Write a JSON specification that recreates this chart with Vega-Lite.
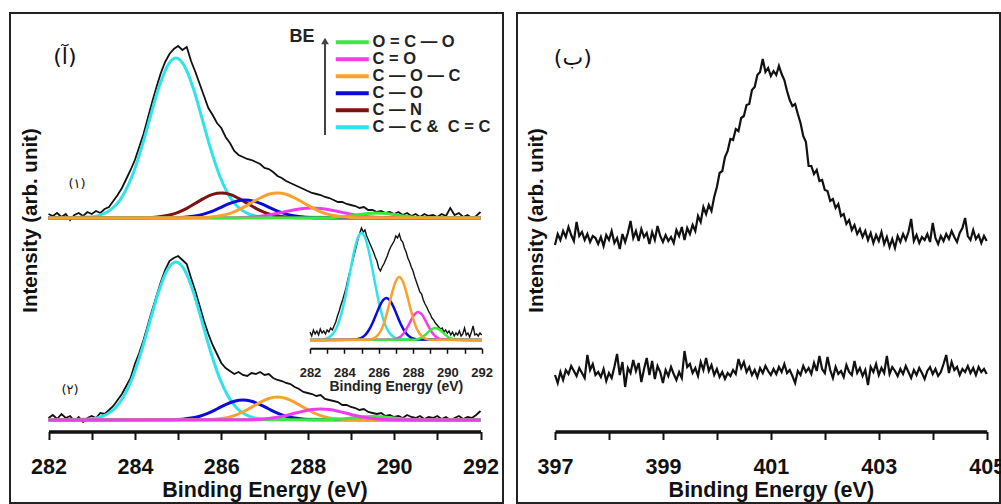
{
"$schema":"https://vega.github.io/schema/vega-lite/v6.json",
"padding":{"left":9,"top":12,"right":0,"bottom":0},
"autosize":{"type":"pad"},
"config":{"view":{"stroke":"#222","strokeWidth":2},"font":"Liberation Sans","axis":{"grid":false}},
"datasets":{
"b1":[{"e":282.0,"v":216},{"e":282.1,"v":214},{"e":282.2,"v":217},{"e":282.3,"v":213},{"e":282.4,"v":216},{"e":282.5,"v":210},{"e":282.6,"v":215},{"e":282.7,"v":217},{"e":282.8,"v":214},{"e":282.9,"v":218},{"e":283.0,"v":216},{"e":283.1,"v":219},{"e":283.2,"v":217},{"e":283.3,"v":221},{"e":283.4,"v":223},{"e":283.5,"v":229},{"e":283.6,"v":235},{"e":283.7,"v":242},{"e":283.8,"v":251},{"e":283.9,"v":260},{"e":284.0,"v":270},{"e":284.1,"v":283},{"e":284.2,"v":296},{"e":284.3,"v":312},{"e":284.4,"v":328},{"e":284.5,"v":343},{"e":284.6,"v":357},{"e":284.7,"v":368},{"e":284.8,"v":376},{"e":284.9,"v":381},{"e":285.0,"v":384},{"e":285.1,"v":380},{"e":285.2,"v":383},{"e":285.3,"v":369},{"e":285.4,"v":358},{"e":285.5,"v":346},{"e":285.6,"v":334},{"e":285.7,"v":322},{"e":285.8,"v":315},{"e":285.9,"v":307},{"e":286.0,"v":302},{"e":286.1,"v":293},{"e":286.2,"v":287},{"e":286.3,"v":279},{"e":286.4,"v":275},{"e":286.5,"v":273},{"e":286.6,"v":271},{"e":286.7,"v":270},{"e":286.8,"v":268},{"e":286.9,"v":266},{"e":287.0,"v":262},{"e":287.1,"v":261},{"e":287.2,"v":258},{"e":287.3,"v":254},{"e":287.4,"v":252},{"e":287.5,"v":249},{"e":287.6,"v":247},{"e":287.7,"v":245},{"e":287.8,"v":243},{"e":287.9,"v":241},{"e":288.0,"v":239},{"e":288.1,"v":237},{"e":288.2,"v":236},{"e":288.3,"v":235},{"e":288.4,"v":233},{"e":288.5,"v":232},{"e":288.6,"v":230},{"e":288.7,"v":228},{"e":288.8,"v":228},{"e":288.9,"v":226},{"e":289.0,"v":225},{"e":289.1,"v":224},{"e":289.2,"v":222},{"e":289.3,"v":223},{"e":289.4,"v":220},{"e":289.5,"v":220},{"e":289.6,"v":218},{"e":289.7,"v":219},{"e":289.8,"v":217},{"e":289.9,"v":218},{"e":290.0,"v":216},{"e":290.1,"v":218},{"e":290.2,"v":215},{"e":290.3,"v":217},{"e":290.4,"v":214},{"e":290.5,"v":216},{"e":290.6,"v":213},{"e":290.7,"v":216},{"e":290.8,"v":214},{"e":290.9,"v":215},{"e":291.0,"v":213},{"e":291.1,"v":216},{"e":291.2,"v":214},{"e":291.3,"v":222},{"e":291.4,"v":215},{"e":291.5,"v":217},{"e":291.6,"v":213},{"e":291.7,"v":215},{"e":291.8,"v":212},{"e":291.9,"v":214},{"e":292.0,"v":218}],
"b2":[{"e":282.0,"v":12},{"e":282.1,"v":15},{"e":282.2,"v":11},{"e":282.3,"v":16},{"e":282.4,"v":12},{"e":282.5,"v":14},{"e":282.6,"v":9},{"e":282.7,"v":13},{"e":282.8,"v":8},{"e":282.9,"v":12},{"e":283.0,"v":14},{"e":283.1,"v":12},{"e":283.2,"v":17},{"e":283.3,"v":16},{"e":283.4,"v":20},{"e":283.5,"v":24},{"e":283.6,"v":30},{"e":283.7,"v":36},{"e":283.8,"v":44},{"e":283.9,"v":52},{"e":284.0,"v":66},{"e":284.1,"v":77},{"e":284.2,"v":90},{"e":284.3,"v":105},{"e":284.4,"v":120},{"e":284.5,"v":134},{"e":284.6,"v":148},{"e":284.7,"v":160},{"e":284.8,"v":169},{"e":284.9,"v":172},{"e":285.0,"v":174},{"e":285.1,"v":170},{"e":285.2,"v":166},{"e":285.3,"v":152},{"e":285.4,"v":139},{"e":285.5,"v":124},{"e":285.6,"v":109},{"e":285.7,"v":96},{"e":285.8,"v":85},{"e":285.9,"v":76},{"e":286.0,"v":67},{"e":286.1,"v":62},{"e":286.2,"v":59},{"e":286.3,"v":56},{"e":286.4,"v":58},{"e":286.5,"v":55},{"e":286.6,"v":54},{"e":286.7,"v":57},{"e":286.8,"v":56},{"e":286.9,"v":58},{"e":287.0,"v":55},{"e":287.1,"v":56},{"e":287.2,"v":52},{"e":287.3,"v":50},{"e":287.4,"v":49},{"e":287.5,"v":47},{"e":287.6,"v":46},{"e":287.7,"v":43},{"e":287.8,"v":41},{"e":287.9,"v":38},{"e":288.0,"v":37},{"e":288.1,"v":36},{"e":288.2,"v":34},{"e":288.3,"v":35},{"e":288.4,"v":31},{"e":288.5,"v":30},{"e":288.6,"v":29},{"e":288.7,"v":28},{"e":288.8,"v":25},{"e":288.9,"v":25},{"e":289.0,"v":23},{"e":289.1,"v":22},{"e":289.2,"v":20},{"e":289.3,"v":21},{"e":289.4,"v":18},{"e":289.5,"v":17},{"e":289.6,"v":16},{"e":289.7,"v":17},{"e":289.8,"v":14},{"e":289.9,"v":15},{"e":290.0,"v":13},{"e":290.1,"v":14},{"e":290.2,"v":12},{"e":290.3,"v":15},{"e":290.4,"v":13},{"e":290.5,"v":12},{"e":290.6,"v":14},{"e":290.7,"v":11},{"e":290.8,"v":13},{"e":290.9,"v":12},{"e":291.0,"v":14},{"e":291.1,"v":11},{"e":291.2,"v":13},{"e":291.3,"v":10},{"e":291.4,"v":12},{"e":291.5,"v":14},{"e":291.6,"v":11},{"e":291.7,"v":13},{"e":291.8,"v":12},{"e":291.9,"v":15},{"e":292.0,"v":19}],
"comp":[
{"s":1,"k":"c","e":282,"v":212},{"s":1,"k":"c","e":282.95,"v":212.9},{"s":1,"k":"c","e":283.15,"v":214.4},{"s":1,"k":"c","e":283.35,"v":217.7},{"s":1,"k":"c","e":283.55,"v":224.5},{"s":1,"k":"c","e":283.75,"v":236.6},{"s":1,"k":"c","e":283.95,"v":255.5},{"s":1,"k":"c","e":284.15,"v":281.6},{"s":1,"k":"c","e":284.35,"v":312.2},{"s":1,"k":"c","e":284.55,"v":341.9},{"s":1,"k":"c","e":284.75,"v":363.8},{"s":1,"k":"c","e":284.95,"v":372},{"s":1,"k":"c","e":285.15,"v":363.8},{"s":1,"k":"c","e":285.35,"v":341.9},{"s":1,"k":"c","e":285.55,"v":312.2},{"s":1,"k":"c","e":285.75,"v":281.6},{"s":1,"k":"c","e":285.95,"v":255.5},{"s":1,"k":"c","e":286.15,"v":236.6},{"s":1,"k":"c","e":286.35,"v":224.5},{"s":1,"k":"c","e":286.55,"v":217.7},{"s":1,"k":"c","e":286.75,"v":214.4},{"s":1,"k":"c","e":286.95,"v":212.9},{"s":1,"k":"c","e":292,"v":212},
{"s":1,"k":"n","e":282,"v":212},{"s":1,"k":"n","e":284.2,"v":212.2},{"s":1,"k":"n","e":284.4,"v":212.6},{"s":1,"k":"n","e":284.6,"v":213.4},{"s":1,"k":"n","e":284.8,"v":215},{"s":1,"k":"n","e":285.0,"v":217.7},{"s":1,"k":"n","e":285.2,"v":221.7},{"s":1,"k":"n","e":285.4,"v":226.7},{"s":1,"k":"n","e":285.6,"v":231.7},{"s":1,"k":"n","e":285.8,"v":235.6},{"s":1,"k":"n","e":286.0,"v":237},{"s":1,"k":"n","e":286.2,"v":235.6},{"s":1,"k":"n","e":286.4,"v":231.7},{"s":1,"k":"n","e":286.6,"v":226.7},{"s":1,"k":"n","e":286.8,"v":221.7},{"s":1,"k":"n","e":287.0,"v":217.7},{"s":1,"k":"n","e":287.2,"v":215},{"s":1,"k":"n","e":287.4,"v":213.4},{"s":1,"k":"n","e":287.6,"v":212.6},{"s":1,"k":"n","e":287.8,"v":212.2},{"s":1,"k":"n","e":292,"v":212},
{"s":1,"k":"b","e":282,"v":212},{"s":1,"k":"b","e":284.95,"v":212.3},{"s":1,"k":"b","e":285.15,"v":212.7},{"s":1,"k":"b","e":285.35,"v":213.7},{"s":1,"k":"b","e":285.55,"v":215.4},{"s":1,"k":"b","e":285.75,"v":218.2},{"s":1,"k":"b","e":285.95,"v":221.9},{"s":1,"k":"b","e":286.15,"v":225.8},{"s":1,"k":"b","e":286.35,"v":228.8},{"s":1,"k":"b","e":286.55,"v":230},{"s":1,"k":"b","e":286.75,"v":228.8},{"s":1,"k":"b","e":286.95,"v":225.8},{"s":1,"k":"b","e":287.15,"v":221.9},{"s":1,"k":"b","e":287.35,"v":218.2},{"s":1,"k":"b","e":287.55,"v":215.4},{"s":1,"k":"b","e":287.75,"v":213.7},{"s":1,"k":"b","e":287.95,"v":212.7},{"s":1,"k":"b","e":288.15,"v":212.3},{"s":1,"k":"b","e":292,"v":212},
{"s":1,"k":"m","e":282,"v":212},{"s":1,"k":"m","e":286.3,"v":212.2},{"s":1,"k":"m","e":286.5,"v":212.5},{"s":1,"k":"m","e":286.7,"v":213},{"s":1,"k":"m","e":286.9,"v":213.8},{"s":1,"k":"m","e":287.1,"v":215.1},{"s":1,"k":"m","e":287.3,"v":216.7},{"s":1,"k":"m","e":287.5,"v":218.5},{"s":1,"k":"m","e":287.7,"v":220.3},{"s":1,"k":"m","e":287.9,"v":221.5},{"s":1,"k":"m","e":288.1,"v":222},{"s":1,"k":"m","e":288.3,"v":221.5},{"s":1,"k":"m","e":288.5,"v":220.3},{"s":1,"k":"m","e":288.7,"v":218.5},{"s":1,"k":"m","e":288.9,"v":216.7},{"s":1,"k":"m","e":289.1,"v":215.1},{"s":1,"k":"m","e":289.3,"v":213.8},{"s":1,"k":"m","e":289.5,"v":213},{"s":1,"k":"m","e":289.7,"v":212.5},{"s":1,"k":"m","e":289.9,"v":212.2},{"s":1,"k":"m","e":292,"v":212},
{"s":1,"k":"g","e":282,"v":212},{"s":1,"k":"g","e":288.4,"v":212.15},{"s":1,"k":"g","e":288.6,"v":212.4},{"s":1,"k":"g","e":288.8,"v":213},{"s":1,"k":"g","e":289.0,"v":214.1},{"s":1,"k":"g","e":289.2,"v":215.4},{"s":1,"k":"g","e":289.4,"v":216.5},{"s":1,"k":"g","e":289.6,"v":217},{"s":1,"k":"g","e":289.8,"v":216.5},{"s":1,"k":"g","e":290.0,"v":215.4},{"s":1,"k":"g","e":290.2,"v":214.1},{"s":1,"k":"g","e":290.4,"v":213},{"s":1,"k":"g","e":290.6,"v":212.4},{"s":1,"k":"g","e":290.8,"v":212.15},{"s":1,"k":"g","e":292,"v":212},
{"s":1,"k":"o","e":282,"v":212},{"s":1,"k":"o","e":285.5,"v":212.3},{"s":1,"k":"o","e":285.7,"v":212.7},{"s":1,"k":"o","e":285.9,"v":213.7},{"s":1,"k":"o","e":286.1,"v":215.4},{"s":1,"k":"o","e":286.3,"v":218.2},{"s":1,"k":"o","e":286.5,"v":222.3},{"s":1,"k":"o","e":286.7,"v":227.2},{"s":1,"k":"o","e":286.9,"v":232},{"s":1,"k":"o","e":287.1,"v":235.7},{"s":1,"k":"o","e":287.3,"v":237},{"s":1,"k":"o","e":287.5,"v":235.7},{"s":1,"k":"o","e":287.7,"v":232},{"s":1,"k":"o","e":287.9,"v":227.2},{"s":1,"k":"o","e":288.1,"v":222.3},{"s":1,"k":"o","e":288.3,"v":218.2},{"s":1,"k":"o","e":288.5,"v":215.4},{"s":1,"k":"o","e":288.7,"v":213.7},{"s":1,"k":"o","e":288.9,"v":212.7},{"s":1,"k":"o","e":289.1,"v":212.3},{"s":1,"k":"o","e":292,"v":212},
{"s":2,"k":"c","e":282,"v":10},{"s":2,"k":"c","e":282.95,"v":10.9},{"s":2,"k":"c","e":283.15,"v":12.3},{"s":2,"k":"c","e":283.35,"v":15.7},{"s":2,"k":"c","e":283.55,"v":22.3},{"s":2,"k":"c","e":283.75,"v":34.3},{"s":2,"k":"c","e":283.95,"v":53},{"s":2,"k":"c","e":284.15,"v":78.7},{"s":2,"k":"c","e":284.35,"v":108.9},{"s":2,"k":"c","e":284.55,"v":138.3},{"s":2,"k":"c","e":284.75,"v":159.9},{"s":2,"k":"c","e":284.95,"v":168},{"s":2,"k":"c","e":285.15,"v":159.9},{"s":2,"k":"c","e":285.35,"v":138.3},{"s":2,"k":"c","e":285.55,"v":108.9},{"s":2,"k":"c","e":285.75,"v":78.7},{"s":2,"k":"c","e":285.95,"v":53},{"s":2,"k":"c","e":286.15,"v":34.3},{"s":2,"k":"c","e":286.35,"v":22.3},{"s":2,"k":"c","e":286.55,"v":15.7},{"s":2,"k":"c","e":286.75,"v":12.3},{"s":2,"k":"c","e":286.95,"v":10.9},{"s":2,"k":"c","e":292,"v":10},
{"s":2,"k":"b","e":282,"v":10},{"s":2,"k":"b","e":284.9,"v":10.3},{"s":2,"k":"b","e":285.1,"v":10.8},{"s":2,"k":"b","e":285.3,"v":11.9},{"s":2,"k":"b","e":285.5,"v":13.8},{"s":2,"k":"b","e":285.7,"v":16.9},{"s":2,"k":"b","e":285.9,"v":21},{"s":2,"k":"b","e":286.1,"v":25.4},{"s":2,"k":"b","e":286.3,"v":28.7},{"s":2,"k":"b","e":286.5,"v":30},{"s":2,"k":"b","e":286.7,"v":28.7},{"s":2,"k":"b","e":286.9,"v":25.4},{"s":2,"k":"b","e":287.1,"v":21},{"s":2,"k":"b","e":287.3,"v":16.9},{"s":2,"k":"b","e":287.5,"v":13.8},{"s":2,"k":"b","e":287.7,"v":11.9},{"s":2,"k":"b","e":287.9,"v":10.8},{"s":2,"k":"b","e":288.1,"v":10.3},{"s":2,"k":"b","e":292,"v":10},
{"s":2,"k":"o","e":282,"v":10},{"s":2,"k":"o","e":285.7,"v":10.3},{"s":2,"k":"o","e":285.9,"v":10.9},{"s":2,"k":"o","e":286.1,"v":12.1},{"s":2,"k":"o","e":286.3,"v":14.4},{"s":2,"k":"o","e":286.5,"v":18},{"s":2,"k":"o","e":286.7,"v":22.7},{"s":2,"k":"o","e":286.9,"v":27.7},{"s":2,"k":"o","e":287.1,"v":31.5},{"s":2,"k":"o","e":287.3,"v":33},{"s":2,"k":"o","e":287.5,"v":31.5},{"s":2,"k":"o","e":287.7,"v":27.7},{"s":2,"k":"o","e":287.9,"v":22.7},{"s":2,"k":"o","e":288.1,"v":18},{"s":2,"k":"o","e":288.3,"v":14.4},{"s":2,"k":"o","e":288.5,"v":12.1},{"s":2,"k":"o","e":288.7,"v":10.9},{"s":2,"k":"o","e":288.9,"v":10.3},{"s":2,"k":"o","e":292,"v":10},
{"s":2,"k":"g","e":282,"v":10},{"s":2,"k":"g","e":288.5,"v":10.3},{"s":2,"k":"g","e":288.7,"v":10.7},{"s":2,"k":"g","e":288.9,"v":11.4},{"s":2,"k":"g","e":289.1,"v":12.4},{"s":2,"k":"g","e":289.3,"v":13.2},{"s":2,"k":"g","e":289.5,"v":13.5},{"s":2,"k":"g","e":289.7,"v":13.2},{"s":2,"k":"g","e":289.9,"v":12.4},{"s":2,"k":"g","e":290.1,"v":11.4},{"s":2,"k":"g","e":290.3,"v":10.7},{"s":2,"k":"g","e":290.5,"v":10.3},{"s":2,"k":"g","e":292,"v":10},
{"s":2,"k":"m","e":282,"v":10},{"s":2,"k":"m","e":286.7,"v":10.3},{"s":2,"k":"m","e":286.9,"v":10.7},{"s":2,"k":"m","e":287.1,"v":11.5},{"s":2,"k":"m","e":287.3,"v":12.7},{"s":2,"k":"m","e":287.5,"v":14.5},{"s":2,"k":"m","e":287.7,"v":16.7},{"s":2,"k":"m","e":287.9,"v":18.8},{"s":2,"k":"m","e":288.1,"v":20.4},{"s":2,"k":"m","e":288.3,"v":21},{"s":2,"k":"m","e":288.5,"v":20.4},{"s":2,"k":"m","e":288.7,"v":18.8},{"s":2,"k":"m","e":288.9,"v":16.7},{"s":2,"k":"m","e":289.1,"v":14.5},{"s":2,"k":"m","e":289.3,"v":12.7},{"s":2,"k":"m","e":289.5,"v":11.5},{"s":2,"k":"m","e":289.7,"v":10.7},{"s":2,"k":"m","e":289.9,"v":10.3},{"s":2,"k":"m","e":292,"v":10}],
"ib":[{"e":282.0,"v":8},{"e":282.1,"v":4},{"e":282.2,"v":10},{"e":282.3,"v":6},{"e":282.4,"v":9},{"e":282.5,"v":5},{"e":282.6,"v":11},{"e":282.7,"v":7},{"e":282.8,"v":9},{"e":282.9,"v":6},{"e":283.0,"v":10},{"e":283.1,"v":8},{"e":283.2,"v":12},{"e":283.3,"v":10},{"e":283.4,"v":14},{"e":283.5,"v":18},{"e":283.6,"v":24},{"e":283.7,"v":29},{"e":283.8,"v":35},{"e":283.9,"v":40},{"e":284.0,"v":46},{"e":284.1,"v":52},{"e":284.2,"v":60},{"e":284.3,"v":67},{"e":284.4,"v":73},{"e":284.5,"v":80},{"e":284.6,"v":87},{"e":284.7,"v":94},{"e":284.8,"v":101},{"e":284.9,"v":107},{"e":285.0,"v":112},{"e":285.1,"v":108},{"e":285.2,"v":110},{"e":285.3,"v":104},{"e":285.4,"v":100},{"e":285.5,"v":96},{"e":285.6,"v":92},{"e":285.7,"v":88},{"e":285.8,"v":83},{"e":285.9,"v":79},{"e":286.0,"v":72},{"e":286.1,"v":69},{"e":286.2,"v":73},{"e":286.3,"v":76},{"e":286.4,"v":80},{"e":286.5,"v":84},{"e":286.6,"v":89},{"e":286.7,"v":93},{"e":286.8,"v":96},{"e":286.9,"v":99},{"e":287.0,"v":104},{"e":287.1,"v":102},{"e":287.2,"v":106},{"e":287.3,"v":100},{"e":287.4,"v":98},{"e":287.5,"v":92},{"e":287.6,"v":88},{"e":287.7,"v":82},{"e":287.8,"v":78},{"e":287.9,"v":73},{"e":288.0,"v":69},{"e":288.1,"v":63},{"e":288.2,"v":58},{"e":288.3,"v":53},{"e":288.4,"v":48},{"e":288.5,"v":46},{"e":288.6,"v":40},{"e":288.7,"v":36},{"e":288.8,"v":33},{"e":288.9,"v":29},{"e":289.0,"v":26},{"e":289.1,"v":22},{"e":289.2,"v":20},{"e":289.3,"v":17},{"e":289.4,"v":15},{"e":289.5,"v":13},{"e":289.6,"v":11},{"e":289.7,"v":12},{"e":289.8,"v":8},{"e":289.9,"v":10},{"e":290.0,"v":7},{"e":290.1,"v":9},{"e":290.2,"v":5},{"e":290.3,"v":8},{"e":290.4,"v":4},{"e":290.5,"v":7},{"e":290.6,"v":5},{"e":290.7,"v":9},{"e":290.8,"v":4},{"e":290.9,"v":6},{"e":291.0,"v":12},{"e":291.1,"v":5},{"e":291.2,"v":7},{"e":291.3,"v":3},{"e":291.4,"v":8},{"e":291.5,"v":14},{"e":291.6,"v":5},{"e":291.7,"v":6},{"e":291.8,"v":4},{"e":291.9,"v":7},{"e":292.0,"v":5}],
"ic":[
{"k":"c","e":282,"v":0},{"k":"c","e":282.8,"v":0.75},{"k":"c","e":283.0,"v":1.8},{"k":"c","e":283.2,"v":4},{"k":"c","e":283.4,"v":7.8},{"k":"c","e":283.6,"v":14.4},{"k":"c","e":283.8,"v":24.6},{"k":"c","e":284.0,"v":38.5},{"k":"c","e":284.2,"v":55.6},{"k":"c","e":284.4,"v":74},{"k":"c","e":284.6,"v":90.8},{"k":"c","e":284.8,"v":102.7},{"k":"c","e":285.0,"v":107},{"k":"c","e":285.2,"v":102.7},{"k":"c","e":285.4,"v":90.8},{"k":"c","e":285.6,"v":74},{"k":"c","e":285.8,"v":55.6},{"k":"c","e":286.0,"v":38.5},{"k":"c","e":286.2,"v":24.6},{"k":"c","e":286.4,"v":14.4},{"k":"c","e":286.6,"v":7.8},{"k":"c","e":286.8,"v":4},{"k":"c","e":287.0,"v":1.8},{"k":"c","e":287.2,"v":0.75},{"k":"c","e":292,"v":0},
{"k":"b","e":282,"v":0},{"k":"b","e":284.65,"v":0.5},{"k":"b","e":284.85,"v":1.2},{"k":"b","e":285.05,"v":2.8},{"k":"b","e":285.25,"v":5.7},{"k":"b","e":285.45,"v":10.5},{"k":"b","e":285.65,"v":17.3},{"k":"b","e":285.85,"v":25.5},{"k":"b","e":286.05,"v":33.6},{"k":"b","e":286.25,"v":39.7},{"k":"b","e":286.45,"v":42},{"k":"b","e":286.65,"v":39.7},{"k":"b","e":286.85,"v":33.6},{"k":"b","e":287.05,"v":25.5},{"k":"b","e":287.25,"v":17.3},{"k":"b","e":287.45,"v":10.5},{"k":"b","e":287.65,"v":5.7},{"k":"b","e":287.85,"v":2.8},{"k":"b","e":288.05,"v":1.2},{"k":"b","e":288.25,"v":0.5},{"k":"b","e":292,"v":0},
{"k":"m","e":282,"v":0},{"k":"m","e":286.9,"v":0.6},{"k":"m","e":287.1,"v":1.6},{"k":"m","e":287.3,"v":3.8},{"k":"m","e":287.5,"v":7.8},{"k":"m","e":287.7,"v":13.6},{"k":"m","e":287.9,"v":20.3},{"k":"m","e":288.1,"v":25.8},{"k":"m","e":288.3,"v":28},{"k":"m","e":288.5,"v":25.8},{"k":"m","e":288.7,"v":20.3},{"k":"m","e":288.9,"v":13.6},{"k":"m","e":289.1,"v":7.8},{"k":"m","e":289.3,"v":3.8},{"k":"m","e":289.5,"v":1.6},{"k":"m","e":289.7,"v":0.6},{"k":"m","e":292,"v":0},
{"k":"g","e":282,"v":0},{"k":"g","e":288.1,"v":0.35},{"k":"g","e":288.3,"v":1},{"k":"g","e":288.5,"v":2.5},{"k":"g","e":288.7,"v":4.9},{"k":"g","e":288.9,"v":8.1},{"k":"g","e":289.1,"v":10.9},{"k":"g","e":289.3,"v":12},{"k":"g","e":289.5,"v":10.9},{"k":"g","e":289.7,"v":8.1},{"k":"g","e":289.9,"v":4.9},{"k":"g","e":290.1,"v":2.5},{"k":"g","e":290.3,"v":1},{"k":"g","e":290.5,"v":0.35},{"k":"g","e":292,"v":0},
{"k":"o","e":282,"v":0},{"k":"o","e":285.4,"v":0.3},{"k":"o","e":285.6,"v":0.9},{"k":"o","e":285.8,"v":2.5},{"k":"o","e":286.0,"v":5.9},{"k":"o","e":286.2,"v":12},{"k":"o","e":286.4,"v":21.9},{"k":"o","e":286.6,"v":34.8},{"k":"o","e":286.8,"v":48.4},{"k":"o","e":287.0,"v":59},{"k":"o","e":287.2,"v":63},{"k":"o","e":287.4,"v":59},{"k":"o","e":287.6,"v":48.4},{"k":"o","e":287.8,"v":34.8},{"k":"o","e":288.0,"v":21.9},{"k":"o","e":288.2,"v":12},{"k":"o","e":288.4,"v":5.9},{"k":"o","e":288.6,"v":2.5},{"k":"o","e":288.8,"v":0.9},{"k":"o","e":289.0,"v":0.3},{"k":"o","e":292,"v":0}],
"r1":[{"e":397.00,"v":185},{"e":397.05,"v":196},{"e":397.10,"v":190},{"e":397.15,"v":199},{"e":397.20,"v":193},{"e":397.25,"v":203},{"e":397.30,"v":195},{"e":397.35,"v":189},{"e":397.40,"v":208},{"e":397.45,"v":194},{"e":397.50,"v":198},{"e":397.55,"v":190},{"e":397.60,"v":196},{"e":397.65,"v":188},{"e":397.70,"v":194},{"e":397.75,"v":192},{"e":397.80,"v":186},{"e":397.85,"v":193},{"e":397.90,"v":184},{"e":397.95,"v":195},{"e":398.00,"v":190},{"e":398.05,"v":199},{"e":398.10,"v":187},{"e":398.15,"v":192},{"e":398.20,"v":181},{"e":398.25,"v":196},{"e":398.30,"v":188},{"e":398.35,"v":197},{"e":398.40,"v":209},{"e":398.45,"v":192},{"e":398.50,"v":199},{"e":398.55,"v":189},{"e":398.60,"v":201},{"e":398.65,"v":193},{"e":398.70,"v":197},{"e":398.75,"v":186},{"e":398.80,"v":198},{"e":398.85,"v":190},{"e":398.90,"v":204},{"e":398.95,"v":194},{"e":399.00,"v":188},{"e":399.05,"v":195},{"e":399.10,"v":189},{"e":399.15,"v":193},{"e":399.20,"v":187},{"e":399.25,"v":200},{"e":399.30,"v":194},{"e":399.35,"v":203},{"e":399.40,"v":190},{"e":399.45,"v":202},{"e":399.50,"v":196},{"e":399.55,"v":205},{"e":399.60,"v":199},{"e":399.65,"v":214},{"e":399.70,"v":208},{"e":399.75,"v":223},{"e":399.80,"v":216},{"e":399.85,"v":225},{"e":399.90,"v":219},{"e":399.95,"v":233},{"e":400.00,"v":243},{"e":400.05,"v":257},{"e":400.10,"v":259},{"e":400.15,"v":273},{"e":400.20,"v":279},{"e":400.25,"v":291},{"e":400.30,"v":290},{"e":400.35,"v":301},{"e":400.40,"v":299},{"e":400.45,"v":312},{"e":400.50,"v":314},{"e":400.55,"v":325},{"e":400.60,"v":326},{"e":400.65,"v":340},{"e":400.70,"v":343},{"e":400.75,"v":355},{"e":400.80,"v":358},{"e":400.85,"v":371},{"e":400.90,"v":358},{"e":400.95,"v":362},{"e":401.00,"v":354},{"e":401.05,"v":359},{"e":401.10,"v":355},{"e":401.15,"v":364},{"e":401.20,"v":356},{"e":401.25,"v":350},{"e":401.30,"v":339},{"e":401.35,"v":330},{"e":401.40,"v":324},{"e":401.45,"v":326},{"e":401.50,"v":316},{"e":401.55,"v":307},{"e":401.60,"v":294},{"e":401.65,"v":288},{"e":401.70,"v":264},{"e":401.75,"v":264},{"e":401.80,"v":256},{"e":401.85,"v":260},{"e":401.90,"v":249},{"e":401.95,"v":250},{"e":402.00,"v":240},{"e":402.05,"v":239},{"e":402.10,"v":229},{"e":402.15,"v":231},{"e":402.20,"v":222},{"e":402.25,"v":226},{"e":402.30,"v":214},{"e":402.35,"v":216},{"e":402.40,"v":206},{"e":402.45,"v":210},{"e":402.50,"v":200},{"e":402.55,"v":205},{"e":402.60,"v":196},{"e":402.65,"v":201},{"e":402.70,"v":193},{"e":402.75,"v":199},{"e":402.80,"v":190},{"e":402.85,"v":197},{"e":402.90,"v":187},{"e":402.95,"v":195},{"e":403.00,"v":189},{"e":403.05,"v":198},{"e":403.10,"v":186},{"e":403.15,"v":193},{"e":403.20,"v":183},{"e":403.25,"v":191},{"e":403.30,"v":182},{"e":403.35,"v":194},{"e":403.40,"v":188},{"e":403.45,"v":196},{"e":403.50,"v":190},{"e":403.55,"v":198},{"e":403.60,"v":211},{"e":403.65,"v":189},{"e":403.70,"v":195},{"e":403.75,"v":187},{"e":403.80,"v":193},{"e":403.85,"v":190},{"e":403.90,"v":196},{"e":403.95,"v":188},{"e":404.00,"v":207},{"e":404.05,"v":192},{"e":404.10,"v":186},{"e":404.15,"v":194},{"e":404.20,"v":189},{"e":404.25,"v":196},{"e":404.30,"v":191},{"e":404.35,"v":199},{"e":404.40,"v":193},{"e":404.45,"v":188},{"e":404.50,"v":197},{"e":404.55,"v":202},{"e":404.60,"v":212},{"e":404.65,"v":194},{"e":404.70,"v":190},{"e":404.75,"v":200},{"e":404.80,"v":191},{"e":404.85,"v":195},{"e":404.90,"v":187},{"e":404.95,"v":194},{"e":405.00,"v":189}],
"r2":[{"e":397.00,"v":55},{"e":397.05,"v":47},{"e":397.10,"v":58},{"e":397.15,"v":50},{"e":397.20,"v":60},{"e":397.25,"v":56},{"e":397.30,"v":64},{"e":397.35,"v":59},{"e":397.40,"v":54},{"e":397.45,"v":62},{"e":397.50,"v":57},{"e":397.55,"v":52},{"e":397.60,"v":75},{"e":397.65,"v":60},{"e":397.70,"v":66},{"e":397.75,"v":55},{"e":397.80,"v":58},{"e":397.85,"v":53},{"e":397.90,"v":61},{"e":397.95,"v":49},{"e":398.00,"v":57},{"e":398.05,"v":52},{"e":398.10,"v":63},{"e":398.15,"v":76},{"e":398.20,"v":55},{"e":398.25,"v":68},{"e":398.30,"v":43},{"e":398.35,"v":62},{"e":398.40,"v":57},{"e":398.45,"v":70},{"e":398.50,"v":59},{"e":398.55,"v":67},{"e":398.60,"v":48},{"e":398.65,"v":61},{"e":398.70,"v":72},{"e":398.75,"v":55},{"e":398.80,"v":69},{"e":398.85,"v":51},{"e":398.90,"v":64},{"e":398.95,"v":58},{"e":399.00,"v":47},{"e":399.05,"v":60},{"e":399.10,"v":54},{"e":399.15,"v":63},{"e":399.20,"v":56},{"e":399.25,"v":50},{"e":399.30,"v":58},{"e":399.35,"v":52},{"e":399.40,"v":79},{"e":399.45,"v":63},{"e":399.50,"v":66},{"e":399.55,"v":57},{"e":399.60,"v":62},{"e":399.65,"v":54},{"e":399.70,"v":68},{"e":399.75,"v":60},{"e":399.80,"v":72},{"e":399.85,"v":59},{"e":399.90,"v":65},{"e":399.95,"v":55},{"e":400.00,"v":61},{"e":400.05,"v":53},{"e":400.10,"v":58},{"e":400.15,"v":51},{"e":400.20,"v":57},{"e":400.25,"v":54},{"e":400.30,"v":60},{"e":400.35,"v":56},{"e":400.40,"v":71},{"e":400.45,"v":62},{"e":400.50,"v":68},{"e":400.55,"v":58},{"e":400.60,"v":63},{"e":400.65,"v":55},{"e":400.70,"v":60},{"e":400.75,"v":53},{"e":400.80,"v":62},{"e":400.85,"v":57},{"e":400.90,"v":64},{"e":400.95,"v":59},{"e":401.00,"v":55},{"e":401.05,"v":61},{"e":401.10,"v":56},{"e":401.15,"v":63},{"e":401.20,"v":58},{"e":401.25,"v":66},{"e":401.30,"v":57},{"e":401.35,"v":60},{"e":401.40,"v":54},{"e":401.45,"v":47},{"e":401.50,"v":59},{"e":401.55,"v":55},{"e":401.60,"v":64},{"e":401.65,"v":58},{"e":401.70,"v":62},{"e":401.75,"v":56},{"e":401.80,"v":67},{"e":401.85,"v":59},{"e":401.90,"v":74},{"e":401.95,"v":61},{"e":402.00,"v":57},{"e":402.05,"v":73},{"e":402.10,"v":60},{"e":402.15,"v":52},{"e":402.20,"v":63},{"e":402.25,"v":56},{"e":402.30,"v":59},{"e":402.35,"v":53},{"e":402.40,"v":65},{"e":402.45,"v":58},{"e":402.50,"v":55},{"e":402.55,"v":69},{"e":402.60,"v":57},{"e":402.65,"v":62},{"e":402.70,"v":54},{"e":402.75,"v":60},{"e":402.80,"v":45},{"e":402.85,"v":63},{"e":402.90,"v":58},{"e":402.95,"v":66},{"e":403.00,"v":55},{"e":403.05,"v":62},{"e":403.10,"v":57},{"e":403.15,"v":74},{"e":403.20,"v":56},{"e":403.25,"v":63},{"e":403.30,"v":59},{"e":403.35,"v":54},{"e":403.40,"v":61},{"e":403.45,"v":56},{"e":403.50,"v":64},{"e":403.55,"v":58},{"e":403.60,"v":52},{"e":403.65,"v":60},{"e":403.70,"v":55},{"e":403.75,"v":62},{"e":403.80,"v":57},{"e":403.85,"v":51},{"e":403.90,"v":59},{"e":403.95,"v":63},{"e":404.00,"v":56},{"e":404.05,"v":61},{"e":404.10,"v":54},{"e":404.15,"v":58},{"e":404.20,"v":66},{"e":404.25,"v":75},{"e":404.30,"v":57},{"e":404.35,"v":68},{"e":404.40,"v":60},{"e":404.45,"v":63},{"e":404.50,"v":55},{"e":404.55,"v":61},{"e":404.60,"v":58},{"e":404.65,"v":64},{"e":404.70,"v":57},{"e":404.75,"v":62},{"e":404.80,"v":55},{"e":404.85,"v":63},{"e":404.90,"v":58},{"e":404.95,"v":61},{"e":405.00,"v":56}]
},
"spacing":14,
"bounds":"flush",
"resolve":{"scale":{"color":"independent"}},
"hconcat":[
{
"width":493,"height":490,
"resolve":{"scale":{"x":"independent","y":"independent"},"axis":{"x":"independent","y":"independent"}},
"layer":[
{"layer":[
{"data":{"name":"b1"},"mark":{"type":"line","color":"#111","strokeWidth":1.8},
 "encoding":{
  "x":{"field":"e","type":"quantitative","scale":{"domain":[282,292],"range":[38.5,470.5],"nice":false,"zero":false},
   "axis":{"title":"Binding Energy (eV)","values":[282,282.5,283,283.5,284,284.5,285,285.5,286,286.5,287,287.5,288,288.5,289,289.5,290,290.5,291,291.5,292],"format":".0f","labelExpr":"datum.value % 2 == 0 ? datum.label : ''","offset":-71.5,"domainWidth":3.5,"domainColor":"#111","tickColor":"#111","tickWidth":2,"tickSize":8,"labelFont":"Liberation Sans","labelFontWeight":"bold","labelFontSize":21.5,"labelColor":"#111","labelPadding":34,"labelBaseline":"alphabetic","labelOverlap":false,"labelFlush":false,"titleFont":"Liberation Sans","titleFontWeight":"bold","titleFontSize":21.5,"titleColor":"#111","titleBaseline":"alphabetic","titleY":64.5,"grid":false}},
  "y":{"field":"v","type":"quantitative","scale":{"domain":[-73,417],"nice":false,"zero":false},
   "axis":{"title":"Intensity (arb. unit)","domain":false,"ticks":false,"labels":false,"grid":false,"titleX":20,"titleY":207,"titleAngle":270,"titleAlign":"center","titleBaseline":"middle","titleFont":"Liberation Sans","titleFontWeight":"bold","titleFontSize":20.5,"titleColor":"#111"}}}},
{"data":{"name":"b2"},"mark":{"type":"line","color":"#111","strokeWidth":1.8},
 "encoding":{"x":{"field":"e","type":"quantitative"},"y":{"field":"v","type":"quantitative"}}},
{"data":{"name":"comp"},"mark":{"type":"line","strokeWidth":3,"interpolate":"monotone"},
 "encoding":{"x":{"field":"e","type":"quantitative"},"y":{"field":"v","type":"quantitative"},"detail":{"field":"s","type":"nominal"},
  "color":{"field":"k","type":"nominal","scale":{"domain":["g","m","o","b","n","c"],"range":["#3fe63f","#f03cf0","#f9a12b","#0b0bd8","#7d1212","#2ee3ea"]},
   "legend":{"orient":"none","legendX":325,"legendY":21,"title":null,"direction":"vertical","symbolType":"M-1.36,0L4.64,0","symbolSize":121,"symbolStrokeWidth":4,"labelFont":"Liberation Sans","labelFontWeight":"bold","labelFontSize":16.5,"labelColor":"#222","labelOffset":21,"rowPadding":-5,"padding":0,"labelLimit":300,
    "labelExpr":"datum.value == 'g' ? 'O = C — O' : datum.value == 'm' ? 'C = O' : datum.value == 'o' ? 'C — O — C' : datum.value == 'b' ? 'C — O' : datum.value == 'n' ? 'C — N' : 'C — C &\u00a0\u00a0C = C'"}}}},
{"data":{"values":[{}]},"mark":{"type":"text","text":"(آ)","fontSize":22,"font":"DejaVu Sans","color":"#111"},
 "encoding":{"x":{"datum":282.38,"type":"quantitative"},"y":{"datum":373,"type":"quantitative"}}},
{"data":{"values":[{}]},"mark":{"type":"text","text":"(۱)","fontSize":13,"font":"DejaVu Sans","color":"#111"},
 "encoding":{"x":{"datum":282.66,"type":"quantitative"},"y":{"datum":246,"type":"quantitative"}}},
{"data":{"values":[{}]},"mark":{"type":"text","text":"(۲)","fontSize":13,"font":"DejaVu Sans","color":"#111"},
 "encoding":{"x":{"datum":282.5,"type":"quantitative"},"y":{"datum":40,"type":"quantitative"}}},
{"data":{"values":[{}]},"mark":{"type":"text","text":"BE","fontSize":18,"fontWeight":"bold","font":"Liberation Sans","color":"#222"},
 "encoding":{"x":{"datum":287.87,"type":"quantitative"},"y":{"datum":393,"type":"quantitative"}}},
{"data":{"values":[{}]},"mark":{"type":"rule","color":"#444","strokeWidth":2},
 "encoding":{"x":{"datum":288.4,"type":"quantitative"},"y":{"datum":295,"type":"quantitative"},"y2":{"datum":387}}},
{"data":{"values":[{}]},"mark":{"type":"point","shape":"triangle-up","filled":true,"size":60,"color":"#444","opacity":1},
 "encoding":{"x":{"datum":288.4,"type":"quantitative"},"y":{"datum":389,"type":"quantitative"}}}
]},
{"layer":[
{"data":{"name":"ib"},"mark":{"type":"line","color":"#111","strokeWidth":1.4},
 "encoding":{
  "x":{"field":"e","type":"quantitative","scale":{"domain":[282,292],"range":[300,471.7],"nice":false,"zero":false},
   "axis":{"orient":"bottom","title":"Binding Energy (eV)","values":[282,282.25,282.5,282.75,283,283.25,283.5,283.75,284,284.25,284.5,284.75,285,285.25,285.5,285.75,286,286.25,286.5,286.75,287,287.25,287.5,287.75,288,288.25,288.5,288.75,289,289.25,289.5,289.75,290,290.25,290.5,290.75,291,291.25,291.5,291.75,292],"format":".0f","labelExpr":"datum.value % 2 == 0 ? datum.label : ''","offset":-154.7,"domainWidth":2,"domainColor":"#111","tickColor":"#111","tickWidth":1.5,"tickSize":5,"labelFont":"Liberation Sans","labelFontWeight":"bold","labelFontSize":13,"labelColor":"#222","labelPadding":23,"labelBaseline":"alphabetic","labelOverlap":false,"labelFlush":false,"titleFont":"Liberation Sans","titleFontWeight":"bold","titleFontSize":14,"titleColor":"#222","titleBaseline":"alphabetic","titleY":42.5,"grid":false}},
  "y":{"field":"v","type":"quantitative","scale":{"domain":[0,100],"range":[327,227],"nice":false,"zero":false},"axis":null}}},
{"data":{"name":"ic"},"mark":{"type":"line","strokeWidth":2.5,"interpolate":"monotone"},
 "encoding":{"x":{"field":"e","type":"quantitative"},"y":{"field":"v","type":"quantitative"},"color":{"field":"k","type":"nominal"}}}
]}
]
},
{
"width":483,"height":490,
"layer":[
{"data":{"name":"r1"},"mark":{"type":"line","color":"#111","strokeWidth":2.2},
 "encoding":{
  "x":{"field":"e","type":"quantitative","scale":{"domain":[397,405],"range":[38,469.7],"nice":false,"zero":false},
   "axis":{"title":"Binding Energy (eV)","values":[397,397.5,398,398.5,399,399.5,400,400.5,401,401.5,402,402.5,403,403.5,404,404.5,405],"format":".0f","labelExpr":"(datum.value - 397) % 2 == 0 ? datum.label : ''","offset":-71.5,"domainWidth":3.5,"domainColor":"#111","tickColor":"#111","tickWidth":2,"tickSize":8,"labelFont":"Liberation Sans","labelFontWeight":"bold","labelFontSize":21.5,"labelColor":"#111","labelPadding":34,"labelBaseline":"alphabetic","labelOverlap":false,"labelFlush":false,"titleFont":"Liberation Sans","titleFontWeight":"bold","titleFontSize":21.5,"titleColor":"#111","titleBaseline":"alphabetic","titleY":64.5,"grid":false}},
  "y":{"field":"v","type":"quantitative","scale":{"domain":[-73,417],"nice":false,"zero":false},
   "axis":{"title":"Intensity (arb. unit)","domain":false,"ticks":false,"labels":false,"grid":false,"titleX":19,"titleY":207,"titleAngle":270,"titleAlign":"center","titleBaseline":"middle","titleFont":"Liberation Sans","titleFontWeight":"bold","titleFontSize":20.5,"titleColor":"#111"}}}},
{"data":{"name":"r2"},"mark":{"type":"line","color":"#111","strokeWidth":2.2},
 "encoding":{"x":{"field":"e","type":"quantitative"},"y":{"field":"v","type":"quantitative"}}},
{"data":{"values":[{}]},"mark":{"type":"text","text":"(ب)","fontSize":22,"font":"DejaVu Sans","color":"#111"},
 "encoding":{"x":{"datum":397.33,"type":"quantitative"},"y":{"datum":372,"type":"quantitative"}}}
]
}
]
}
